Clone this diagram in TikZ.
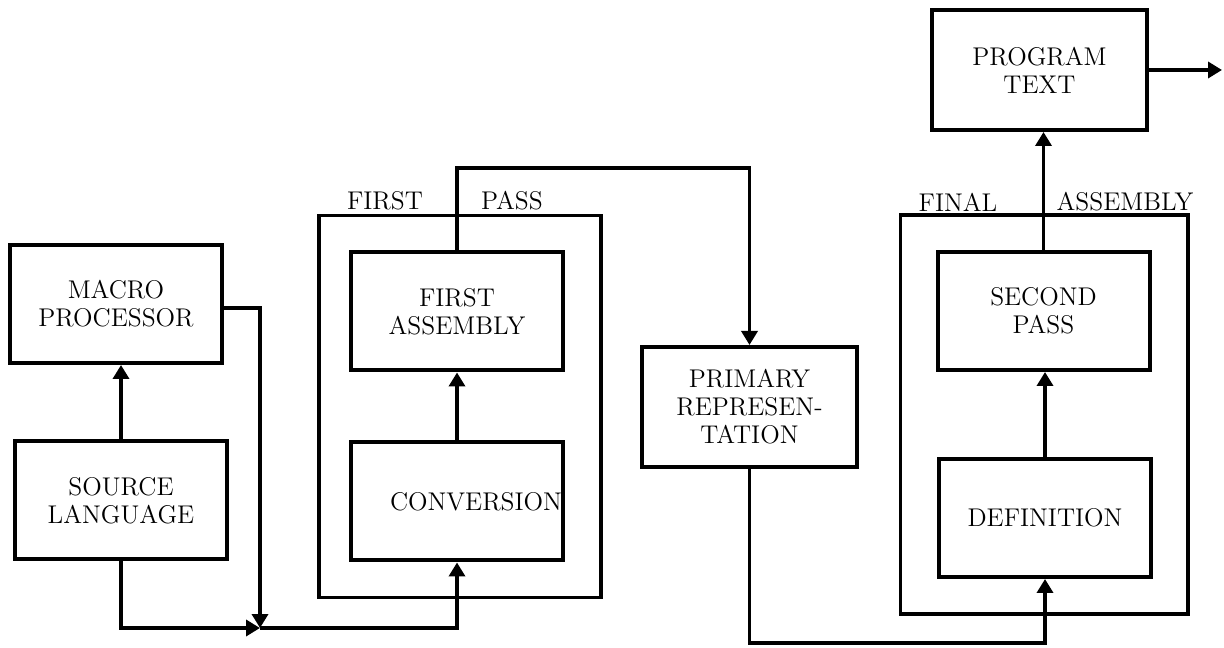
\documentclass[tikz,border=0pt]{standalone}
\usepackage{tikz}
\usetikzlibrary{arrows.meta,positioning,fit}

\begin{document}
\begin{tikzpicture}[
  x=0.5pt, y=0.5pt,
  font=\fontsize{12.8}{14}\selectfont,
  blk/.style={draw, line width=2pt, align=center, inner sep=0pt, minimum width=106pt, minimum height=59pt},
  grp/.style={draw, line width=1.6pt, inner sep=17.5pt},
  lab/.style={inner sep=1pt},
  arr/.style={-{Triangle[length=7pt, width=8pt]}, line width=1.8pt}]
  \useasboundingbox (0,0) rectangle (1224,647);
  % input side
  \node[blk] (mac) at (116,343) {MACRO\\PROCESSOR};
  \node[blk] (src) at (121,146.5) {SOURCE\\LANGUAGE};
  % first pass
  \node[blk] (fasm) at (457,335.5) {FIRST\\ASSEMBLY};
  \node[blk, text width=105pt, align=right] (conv) at (457,145.5) {CONVERSION};
  \node[grp, inner xsep=16.5pt, xshift=1.5pt, fit=(fasm)(conv)] (fpass) {};
  \node[lab] (lfirst) at (385,446) {FIRST};
  \node[lab] (lpass) at (512,446) {PASS};
  % intermediate form
  \node[blk, minimum width=107.5pt, minimum height=60pt] (prim) at (749.5,240) {PRIMARY\\REPRESEN-\\TATION};
  % final assembly
  \node[blk] (second) at (1043.5,336) {SECOND\\PASS};
  \node[blk] (defin) at (1045,129) {DEFINITION};
  \node[grp, fit=(second)(defin)] (fasmb) {};
  \node[lab] (lfinal) at (958,445) {FINAL};
  \node[lab] (lassem) at (1125,445) {ASSEMBLY};
  \node[blk, minimum width=107.5pt, minimum height=60pt] (prog) at (1039.5,577) {PROGRAM\\TEXT};
  % data flow
  \coordinate (join) at (260,19);
  \coordinate (out) at (1222,577);
  \draw[arr] (src.north) -- (src.north |- mac.south);
  \draw[arr] ([yshift=-2pt]mac.east) -| (join);
  \draw[arr] (src.south) |- (join);
  \draw[arr] (join) -| (conv.south);
  \draw[arr] (conv.north) -- (fasm.south);
  \draw[arr] (fasm.north) -- (fasm.north |- 0,479) -| (prim.north);
  \draw[arr] (prim.south) -- (prim.south |- 0,4) -| (defin.south);
  \draw[arr] (defin.north) -- (defin.north |- second.south);
  \draw[arr] (second.north) -- (second.north |- prog.south);
  \draw[arr] (prog.east) -- (out);
\end{tikzpicture}
\end{document}
